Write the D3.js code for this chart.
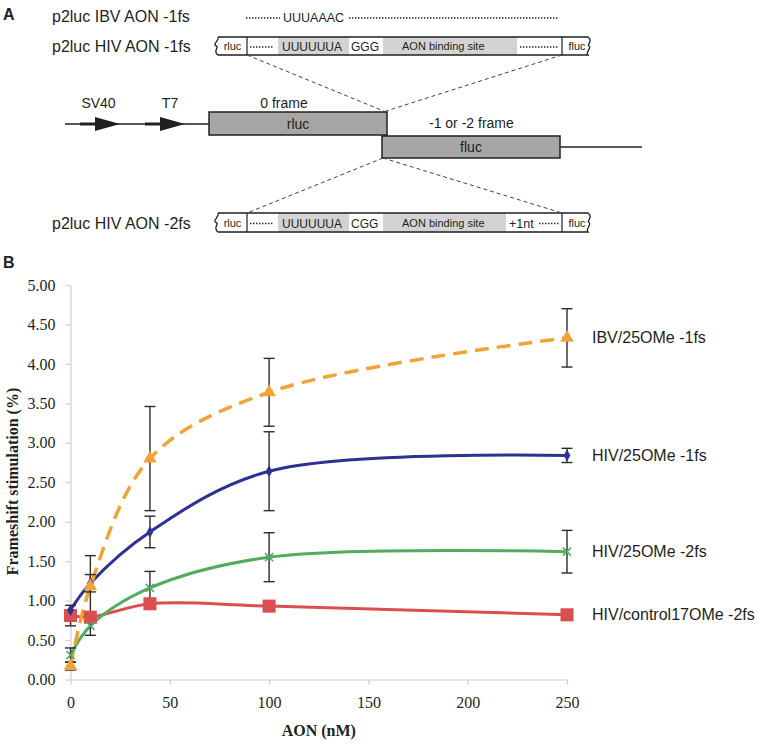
<!DOCTYPE html>
<html><head><meta charset="utf-8">
<script src="https://cdn.jsdelivr.net/npm/d3@7"></script>
<style>body{margin:0;background:#fff}</style>
</head><body>
<svg id="c" width="758" height="744"></svg>
<script>
// ---------- data ----------
const doses = [0, 10, 40, 100, 250];
const seriesNames = ["IBV/25OMe -1fs", "HIV/25OMe -1fs", "HIV/25OMe -2fs", "HIV/control17OMe -2fs"];
const ibvMean  = [0.17, 1.18, 2.80, 3.64, 4.33];
const ibvErr   = [0.05, 0.39, 0.66, 0.43, 0.37];
const hiv1Mean = [0.88, 1.22, 1.87, 2.64, 2.84];
const hiv1Err  = [0.00, 0.11, 0.20, 0.50, 0.09];
const hiv2Mean = [0.31, 0.68, 1.16, 1.55, 1.62];
const hiv2Err  = [0.09, 0.12, 0.21, 0.31, 0.27];
const ctrlMean = [0.81, 0.79, 0.96, 0.93, 0.82];
const ctrlErr  = [0.13, 0.00, 0.00, 0.00, 0.00];
const yTicks = [0, 0.5, 1, 1.5, 2, 2.5, 3, 3.5, 4, 4.5, 5];
const xTicks = [0, 50, 100, 150, 200, 250];

const svg = d3.select("#c");
const ink = "#231f20";
const sans = "'Liberation Sans', Arial, sans-serif";
const serif = "'Liberation Serif', 'Times New Roman', serif";

// ---------- panel A (schematic) ----------
const A = svg.append("g").attr("font-family", sans).attr("fill", ink);
A.append("text").attr("x", 3).attr("y", 20).attr("font-size", 16).attr("font-weight", "bold").text("A");
A.append("text").attr("x", 3).attr("y", 268).attr("font-size", 16).attr("font-weight", "bold").text("B");

A.append("text").attr("x", 52).attr("y", 22).attr("font-size", 16).text("p2luc IBV AON -1fs");
A.append("text").attr("x", 52).attr("y", 52).attr("font-size", 16).text("p2luc HIV AON -1fs");
A.append("text").attr("x", 52).attr("y", 229).attr("font-size", 16).text("p2luc HIV AON -2fs");

function dotted(x1, x2, y) {
  A.append("line").attr("x1", x1).attr("x2", x2).attr("y1", y).attr("y2", y)
    .attr("stroke", ink).attr("stroke-width", 1.4).attr("stroke-dasharray", "1.4,1.6");
}
// IBV row
dotted(246, 280, 18);
A.append("text").attr("x", 283).attr("y", 22).attr("font-size", 12.5).text("UUUAAAC");
dotted(349, 559, 18);

function constructBox(yTop, yBot, spacer, spacerIsNt) {
  const g = A.append("g");
  const ym = (yTop + yBot) / 2;
  g.append("rect").attr("x", 278).attr("y", yTop).attr("width", 71).attr("height", yBot - yTop).attr("fill", "#d3d3d3");
  g.append("rect").attr("x", 383).attr("y", yTop).attr("width", spacerIsNt ? 123 : 134).attr("height", yBot - yTop).attr("fill", "#d3d3d3");
  const p = d3.path();
  p.moveTo(218, yTop);
  p.lineTo(588, yTop);
  p.bezierCurveTo(594, yTop + 4, 586, ym - 1, 589, ym);
  p.bezierCurveTo(592, ym + 2, 585, yBot - 3, 588, yBot);
  p.lineTo(218, yBot);
  p.bezierCurveTo(212, yBot - 4, 220, ym + 1, 216, ym);
  p.bezierCurveTo(212, ym - 2, 220, yTop + 3, 218, yTop);
  g.append("path").attr("d", p.toString()).attr("fill", "none").attr("stroke", ink).attr("stroke-width", 1.3);
  g.append("line").attr("x1", 247).attr("x2", 247).attr("y1", yTop).attr("y2", yBot).attr("stroke", ink).attr("stroke-width", 1.2);
  g.append("line").attr("x1", 562).attr("x2", 562).attr("y1", yTop).attr("y2", yBot).attr("stroke", ink).attr("stroke-width", 1.2);
  g.append("text").attr("x", 232.5).attr("y", ym + 4).attr("text-anchor", "middle").attr("font-size", 11).text("rluc");
  g.append("text").attr("x", 577).attr("y", ym + 4).attr("text-anchor", "middle").attr("font-size", 11).text("fluc");
  dotted(250, 274, ym + 1);
  g.append("text").attr("x", 282).attr("y", ym + 5).attr("font-size", 12).text("UUUUUUA");
  g.append("text").attr("x", 351).attr("y", ym + 5).attr("font-size", 12).text(spacer);
  g.append("text").attr("x", 402).attr("y", ym + 4).attr("font-size", 11).text("AON binding site");
  if (spacerIsNt) {
    g.append("text").attr("x", 509).attr("y", ym + 5).attr("font-size", 12.5).text("+1nt");
    dotted(539, 559, ym + 1);
  } else {
    dotted(520, 559, ym + 1);
  }
}
constructBox(37, 55, "GGG", false);
constructBox(213, 232, "CGG", true);

// main construct
A.append("line").attr("x1", 65).attr("x2", 209).attr("y1", 124).attr("y2", 124).attr("stroke", ink).attr("stroke-width", 1.5);
function arrow(x0) {
  A.append("line").attr("x1", x0).attr("x2", x0 + 18).attr("y1", 124).attr("y2", 124).attr("stroke", ink).attr("stroke-width", 3);
  A.append("path").attr("d", `M${x0 + 15},117 L${x0 + 40},124 L${x0 + 15},131 Z`).attr("fill", ink);
}
arrow(80); arrow(145);
A.append("text").attr("x", 98.5).attr("y", 108).attr("text-anchor", "middle").attr("font-size", 14).text("SV40");
A.append("text").attr("x", 170).attr("y", 108).attr("text-anchor", "middle").attr("font-size", 14).text("T7");
A.append("text").attr("x", 284).attr("y", 108).attr("text-anchor", "middle").attr("font-size", 14).text("0 frame");
A.append("text").attr("x", 429).attr("y", 128).attr("font-size", 14).text("-1 or -2 frame");
A.append("line").attr("x1", 560).attr("x2", 642).attr("y1", 147).attr("y2", 147).attr("stroke", ink).attr("stroke-width", 1.5);
A.append("rect").attr("x", 209).attr("y", 112).attr("width", 178).attr("height", 23).attr("fill", "#a6a6a6").attr("stroke", ink).attr("stroke-width", 1.5);
A.append("rect").attr("x", 382).attr("y", 136).attr("width", 178).attr("height", 22).attr("fill", "#a6a6a6").attr("stroke", ink).attr("stroke-width", 1.5);
A.append("text").attr("x", 298).attr("y", 129).attr("text-anchor", "middle").attr("font-size", 14).text("rluc");
A.append("text").attr("x", 471).attr("y", 152).attr("text-anchor", "middle").attr("font-size", 14).text("fluc");

function dashed(x1, y1, x2, y2) {
  A.append("line").attr("x1", x1).attr("y1", y1).attr("x2", x2).attr("y2", y2)
    .attr("stroke", "#444").attr("stroke-width", 1).attr("stroke-dasharray", "4,3");
}
dashed(247, 55, 386, 112);
dashed(562, 55, 383, 112);
dashed(383, 158, 247, 213);
dashed(383, 158, 562, 213);

// ---------- panel B (chart) ----------
const x = d3.scaleLinear().domain([0, 250]).range([70.5, 567]);
const y = d3.scaleLinear().domain([0, 5]).range([679.5, 285]);

const yAxis = svg.append("g").attr("transform", "translate(70.5,0)")
  .call(d3.axisLeft(y).tickValues(yTicks).tickFormat(d3.format(".2f")).tickSize(5).tickSizeOuter(0).tickPadding(10));
const xAxis = svg.append("g").attr("transform", "translate(0,679.5)")
  .call(d3.axisBottom(x).tickValues(xTicks).tickSize(5).tickSizeOuter(0).tickPadding(12));
[yAxis, xAxis].forEach(a => {
  a.select(".domain").attr("stroke", "#cfcfcf").attr("stroke-width", 1.2);
  a.selectAll(".tick line").attr("stroke", "#cfcfcf").attr("stroke-width", 1.2);
  a.selectAll(".tick text").attr("font-family", serif).attr("font-size", 16).attr("fill", ink);
});

svg.append("text").attr("transform", "translate(18,481.5) rotate(-90)").attr("text-anchor", "middle")
  .attr("font-family", serif).attr("font-weight", "bold").attr("font-size", 16).attr("fill", ink)
  .text("Frameshift stimulation (%)");
svg.append("text").attr("x", 318.75).attr("y", 736).attr("text-anchor", "middle")
  .attr("font-family", serif).attr("font-weight", "bold").attr("font-size", 16).attr("fill", ink)
  .text("AON (nM)");

const series = [
  { name: seriesNames[0], mean: ibvMean,  err: ibvErr,  color: "#f1a336", dash: "14,8", width: 3.5, sym: d3.symbolTriangle, size: 80, fill: true },
  { name: seriesNames[1], mean: hiv1Mean, err: hiv1Err, color: "#2e3192", dash: null,   width: 3,   sym: d3.symbolDiamond,  size: 40, fill: true },
  { name: seriesNames[2], mean: hiv2Mean, err: hiv2Err, color: "#52ab5e", dash: null,   width: 3,   sym: d3.symbolX,        size: 45, fill: false },
  { name: seriesNames[3], mean: ctrlMean, err: ctrlErr, color: "#d94f4f", dash: null,   width: 3,   sym: d3.symbolSquare,   size: 170, fill: true }
];

const line = d3.line().x(d => x(d.dose)).y(d => y(d.v)).curve(d3.curveCatmullRom.alpha(0.5));
const pts = s => doses.map((dose, i) => ({ dose, v: s.mean[i], e: s.err[i] }));

const linesG = svg.append("g");
[3, 2, 1, 0].forEach(k => {
  const s = series[k];
  linesG.append("path").attr("d", line(pts(s))).attr("fill", "none")
    .attr("stroke", s.color).attr("stroke-width", s.width)
    .attr("stroke-dasharray", s.dash).attr("stroke-linecap", "butt");
});

const errG = svg.append("g").attr("stroke", "#2b2b2b").attr("stroke-width", 1.4);
series.forEach(s => {
  pts(s).filter(d => d.e > 0).forEach(d => {
    errG.append("line").attr("x1", x(d.dose)).attr("x2", x(d.dose)).attr("y1", y(d.v - d.e)).attr("y2", y(d.v + d.e));
    [d.v - d.e, d.v + d.e].forEach(c => errG.append("line").attr("x1", x(d.dose) - 5.5).attr("x2", x(d.dose) + 5.5).attr("y1", y(c)).attr("y2", y(c)));
  });
});

const markG = svg.append("g");
[3, 2, 1, 0].forEach(k => {
  const s = series[k];
  markG.selectAll(null).data(pts(s)).join("path")
    .attr("transform", d => `translate(${x(d.dose)},${y(d.v)})`)
    .attr("d", d3.symbol().type(s.sym).size(s.size))
    .attr("fill", s.fill ? s.color : "none")
    .attr("stroke", s.fill ? "none" : s.color).attr("stroke-width", 1.6);
});

series.forEach(s => {
  svg.append("text").attr("x", 592).attr("y", y(s.mean[s.mean.length - 1]) + 5.5)
    .attr("font-family", sans).attr("font-size", 16).attr("fill", ink).text(s.name);
});
</script>
</body></html>
